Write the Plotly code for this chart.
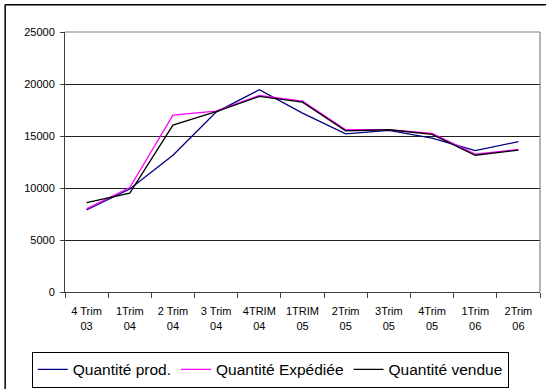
import plotly.graph_objects as go

categories = ["4 Trim<br>03", "1Trim<br>04", "2 Trim<br>04", "3 Trim<br>04", "4TRIM<br>04",
              "1TRIM<br>05", "2Trim<br>05", "3Trim<br>05", "4Trim<br>05", "1Trim<br>06", "2Trim<br>06"]
quantite_prod = [7900, 9900, 13150, 17300, 19450, 17200, 15200, 15550, 14800, 13600, 14450]
quantite_expediee = [8000, 10050, 17000, 17400, 18900, 18350, 15600, 15600, 15250, 13250, 13700]
quantite_vendue = [8600, 9500, 16050, 17350, 18800, 18250, 15500, 15600, 15150, 13150, 13650]
series_names = ["Quantité prod.", "Quantité Expédiée", "Quantité vendue"]
y_ticks = [0, 5000, 10000, 15000, 20000, 25000]

fig = go.Figure()
for name, vals, col in zip(series_names, [quantite_prod, quantite_expediee, quantite_vendue],
                           ["#000080", "#FF00FF", "#000000"]):
    fig.add_trace(go.Scatter(x=categories, y=vals, mode="lines", name=name,
                             line=dict(color=col, width=1.3)))

fig.update_layout(
    width=546, height=389,
    margin=dict(l=65, r=6, t=32, b=97, autoexpand=False),
    paper_bgcolor="white", plot_bgcolor="white",
    font=dict(family="Liberation Sans, Arial", size=11, color="black"),
    showlegend=True,
    legend=dict(orientation="h", x=-0.07, xanchor="left", y=-0.23, yanchor="top",
                bordercolor="black", borderwidth=1, font=dict(size=15.5),
                itemwidth=30, tracegroupgap=0),
    xaxis=dict(type="category", range=[-0.5, len(categories) - 0.5],
               showline=True, linecolor="#404040", linewidth=1,
               ticks="outside", ticklen=5, tickcolor="#404040", tickson="boundaries",
               ticklabelstandoff=9,
               showgrid=False, tickfont=dict(size=11), fixedrange=True, automargin=False),
    yaxis=dict(range=[0, 25000], tickvals=y_ticks, ticktext=[str(v) for v in y_ticks],
               showline=True, linecolor="#404040", ticklabelstandoff=3,
               linewidth=1, ticks="outside", ticklen=4, tickcolor="#404040",
               showgrid=True, gridcolor="#202020", gridwidth=1.2, zeroline=False,
               tickfont=dict(size=11), fixedrange=True, automargin=False),
    shapes=[
        dict(type="line", xref="paper", yref="paper", x0=0, x1=1, y0=1, y1=1,
             line=dict(color="#808080", width=1.2)),
        dict(type="line", xref="paper", yref="paper", x0=1, x1=1, y0=0, y1=1,
             line=dict(color="#808080", width=1.2)),
        dict(type="line", xref="paper", yref="paper", x0=-0.126, x1=1.05, y0=1.105, y1=1.105,
             line=dict(color="black", width=1.5)),
        dict(type="line", xref="paper", yref="paper", x0=-0.126, x1=-0.126, y0=1.105, y1=-0.5,
             line=dict(color="black", width=1.5)),
    ],
)
fig.write_html("out.html", config={"displayModeBar": False},
               post_script="document.body.style.margin='0';document.body.style.overflow='hidden';")
